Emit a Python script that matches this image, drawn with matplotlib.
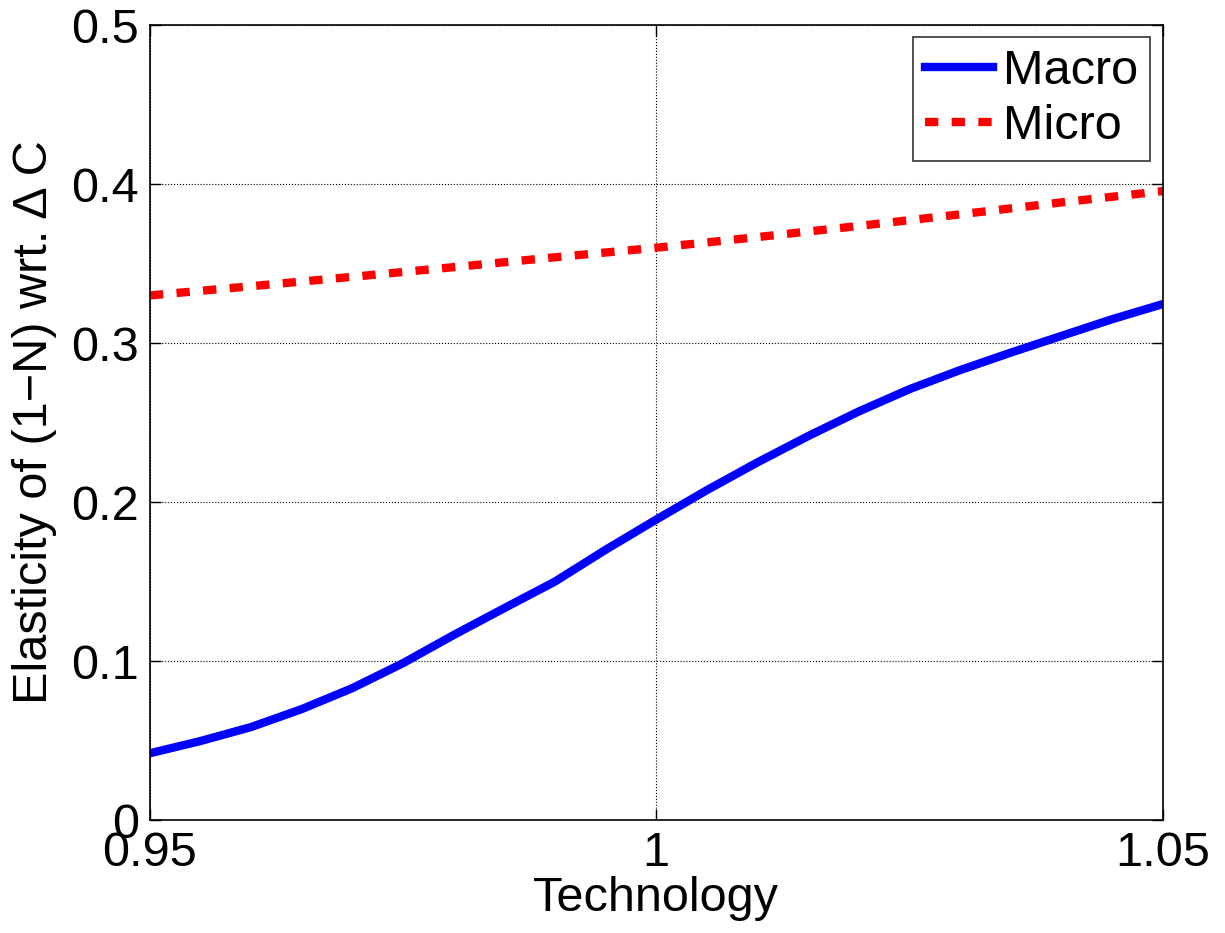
import numpy as np
import matplotlib
matplotlib.use('Agg')
import matplotlib.pyplot as plt

plt.rcParams['font.family'] = ['Liberation Sans', 'DejaVu Sans']

# values
tech = [0.950, 0.955, 0.960, 0.965, 0.970, 0.975, 0.980, 0.985, 0.990, 0.995, 1.000,
        1.005, 1.010, 1.015, 1.020, 1.025, 1.030, 1.035, 1.040, 1.045, 1.050]
macro = [0.042, 0.0497, 0.0585, 0.0698, 0.083, 0.0987, 0.1164, 0.1333, 0.150, 0.170, 0.189,
         0.2075, 0.225, 0.2415, 0.257, 0.271, 0.283, 0.294, 0.3045, 0.315, 0.3245]
tech_micro = [0.95, 0.96, 0.97, 0.98, 0.99, 1.00, 1.01, 1.02, 1.03, 1.04, 1.05]
micro = [0.330, 0.3358, 0.3417, 0.3478, 0.354, 0.360, 0.3667, 0.3737, 0.381, 0.3885, 0.3956]

fig = plt.figure(figsize=(12.25, 9.33), dpi=100)
ax = fig.add_axes([0.1224, 0.1211, 0.8266, 0.8519])

ax.plot(tech, macro, color='#0000ff', lw=6, label='Macro')
ax.plot(tech_micro, micro, color='#ff0000', lw=6, ls=(0, (1.6, 1.6)), label='Micro')

ax.set_xlim(0.95, 1.05)
ax.set_ylim(0, 0.5)
ax.set_xticks([0.95, 1.0, 1.05])
ax.set_xticklabels(['0.95', '1', '1.05'])
ax.set_yticks([0, 0.1, 0.2, 0.3, 0.4, 0.5])
ax.set_yticklabels(['0', '0.1', '0.2', '0.3', '0.4', '0.5'])
ax.tick_params(direction='in', length=8, width=1, labelsize=35, top=True, right=True, pad=8)
ax.grid(True, color='black', ls=':', lw=0.8)
for s in ax.spines.values():
    s.set_linewidth(1.2)

ax.set_xlabel('Technology', fontsize=35, labelpad=0)
ax.set_ylabel('Elasticity of (1\u2212N) wrt. \u0394 C', fontsize=35, labelpad=10)

leg = ax.legend(loc='upper right', fontsize=35, fancybox=False, edgecolor='black',
                handlelength=1.4, handletextpad=0.2, borderpad=0.25, labelspacing=0.2,
                borderaxespad=0.25)
leg.get_frame().set_linewidth(1.2)

fig.savefig('out.png', dpi=100)
